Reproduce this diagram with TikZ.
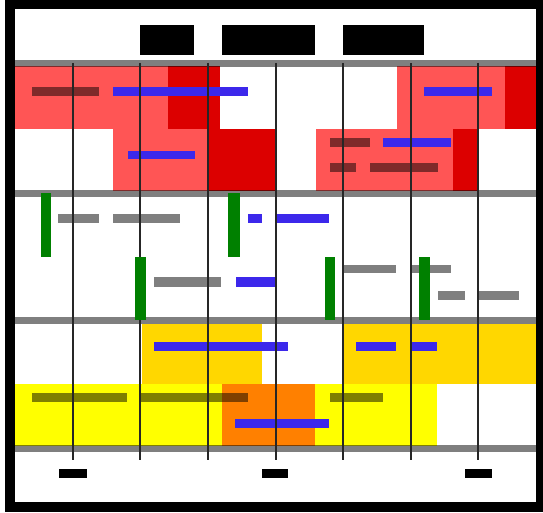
\documentclass[tikz,border=0pt]{standalone}
\definecolor{lred}{RGB}{255,85,85}
\definecolor{dred}{RGB}{220,0,0}
\definecolor{bblue}{RGB}{60,40,235}
\definecolor{ggreen}{RGB}{0,128,0}
\definecolor{goldc}{RGB}{255,215,0}
\definecolor{yel}{RGB}{255,255,0}
\definecolor{orng}{RGB}{255,128,0}
\tikzset{
  shadebar/.style={fill=black, fill opacity=0.5},
  bluebar/.style={fill=bblue},
  greenbar/.style={fill=ggreen},
  hline/.style={fill=black, fill opacity=0.5},
  vline/.style={draw=black!85, line width=1.1pt},
  hdr/.style={fill=black}
}
\begin{document}
\begin{tikzpicture}[x=1pt,y=-1pt]
\useasboundingbox (0,0) rectangle (543,513);
\fill[white] (0,0) rectangle (543,513);
% frame
\fill[black] (5,0) rectangle (543,512);
\fill[white] (15,9) rectangle (536,502);
% header
\fill[hdr] (140,25) rectangle (194,55);
\fill[hdr] (222,25) rectangle (315,55);
\fill[hdr] (343,25) rectangle (424,55);
% section 1 row 1
\fill[lred] (15,66) rectangle (168,129);
\fill[dred] (168,66) rectangle (220,129);
\fill[lred] (397,66) rectangle (505,129);
\fill[dred] (505,66) rectangle (536,129);
% section 1 row 2
\fill[lred] (113,129) rectangle (208,191);
\fill[dred] (208,129) rectangle (276,191);
\fill[lred] (316,129) rectangle (453,191);
\fill[dred] (453,129) rectangle (478,191);
% section 3 row 1
\fill[goldc] (142,324) rectangle (262,384);
\fill[goldc] (343,324) rectangle (536,384);
% section 3 row 2
\fill[yel] (15,384) rectangle (222,446);
\fill[orng] (222,384) rectangle (315,446);
\fill[yel] (315,384) rectangle (437,446);
% horizontal lines
\fill[hline] (15,60) rectangle (536,67);
\fill[hline] (15,190) rectangle (536,197);
\fill[hline] (15,317) rectangle (536,324);
\fill[hline] (15,445) rectangle (536,452);
% section 1 bars
\fill[shadebar] (32,87) rectangle (99,96);
\fill[bluebar] (113,87) rectangle (248,96);
\fill[bluebar] (424,87) rectangle (492,96);
\fill[bluebar] (128,151) rectangle (195,159);
\fill[shadebar] (330,138) rectangle (370,147);
\fill[bluebar] (383,138) rectangle (451,147);
\fill[shadebar] (330,163) rectangle (356,172);
\fill[shadebar] (370,163) rectangle (438,172);
% section 2 bars
\fill[shadebar] (58,214) rectangle (99,223);
\fill[shadebar] (113,214) rectangle (180,223);
\fill[bluebar] (248,214) rectangle (262,223);
\fill[bluebar] (275,214) rectangle (329,223);
\fill[shadebar] (154,277) rectangle (221,287);
\fill[bluebar] (236,277) rectangle (275,287);
\fill[shadebar] (343,265) rectangle (396,273);
\fill[shadebar] (411,265) rectangle (451,273);
\fill[shadebar] (438,291) rectangle (465,300);
\fill[shadebar] (479,291) rectangle (519,300);
% section 3 bars
\fill[bluebar] (154,342) rectangle (288,351);
\fill[bluebar] (356,342) rectangle (396,351);
\fill[bluebar] (411,342) rectangle (437,351);
\fill[shadebar] (32,393) rectangle (127,402);
\fill[shadebar] (140,393) rectangle (248,402);
\fill[shadebar] (330,393) rectangle (383,402);
\fill[bluebar] (235,419) rectangle (329,428);
% vertical lines
\foreach \x in {73,140,208,276,343,411,478}
  \draw[vline] (\x,63) -- (\x,460);
% green bars
\fill[greenbar] (41,193) rectangle (51,257);
\fill[greenbar] (228,193) rectangle (240,257);
\fill[greenbar] (135,257) rectangle (146,320);
\fill[greenbar] (325,257) rectangle (335,320);
\fill[greenbar] (419,257) rectangle (430,320);
% footer
\fill[hdr] (59,469) rectangle (87,478);
\fill[hdr] (262,469) rectangle (288,478);
\fill[hdr] (465,469) rectangle (492,478);
\end{tikzpicture}
\end{document}
